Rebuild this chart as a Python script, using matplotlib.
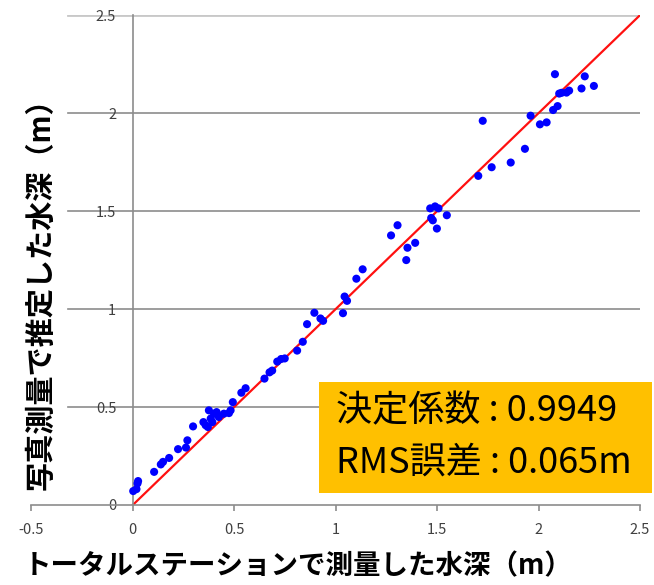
import matplotlib
matplotlib.use("Agg")
import matplotlib.pyplot as plt
from matplotlib.patches import Rectangle
from matplotlib.ticker import FuncFormatter

plt.rcParams['font.family'] = ['Noto Sans CJK JP', 'DejaVu Sans']

# measured (total station) vs estimated (photogrammetry) water depth, m
measured = [0.002, 0.018, 0.023, 0.026, 0.105, 0.138, 0.149, 0.179, 0.223, 0.262,
            0.269, 0.297, 0.348, 0.359, 0.370, 0.375, 0.384, 0.400, 0.413, 0.424,
            0.392, 0.449, 0.474, 0.482, 0.493, 0.535, 0.556, 0.649, 0.674, 0.687,
            0.712, 0.731, 0.749, 0.810, 0.838, 0.859, 0.895, 0.925, 0.938, 1.036,
            1.044, 1.056, 1.102, 1.133, 1.273, 1.305, 1.348, 1.354, 1.392, 1.466,
            1.490, 1.507, 1.471, 1.479, 1.499, 1.548, 1.725, 1.703, 1.769, 1.863,
            1.933, 1.961, 2.007, 2.040, 2.072, 2.094, 2.081, 2.102, 2.114, 2.138,
            2.151, 2.212, 2.228, 2.273]
estimated = [0.071, 0.081, 0.110, 0.122, 0.169, 0.207, 0.220, 0.240, 0.285, 0.293,
             0.330, 0.401, 0.423, 0.407, 0.398, 0.483, 0.441, 0.466, 0.474, 0.449,
             0.423, 0.466, 0.469, 0.483, 0.525, 0.573, 0.596, 0.645, 0.677, 0.686,
             0.732, 0.745, 0.748, 0.788, 0.833, 0.923, 0.981, 0.952, 0.940, 0.979,
             1.064, 1.042, 1.155, 1.203, 1.376, 1.428, 1.250, 1.313, 1.338, 1.514,
             1.524, 1.514, 1.465, 1.453, 1.411, 1.479, 1.961, 1.680, 1.724, 1.748,
             1.818, 1.987, 1.943, 1.953, 2.016, 2.036, 2.199, 2.100, 2.104, 2.105,
             2.115, 2.126, 2.188, 2.139]

x_ticks = [-0.5, 0, 0.5, 1, 1.5, 2, 2.5]
y_ticks = [0, 0.5, 1, 1.5, 2, 2.5]
one_to_one = [0, 2.5]

r2_text = "決定係数 : 0.9949"
rms_text = "RMS誤差 : 0.065m"

fig = plt.figure(figsize=(6.54, 5.85), dpi=100)
ax = fig.add_axes([0.048, 0.1368, 0.9305, 0.8372])

ax.set_xlim(-0.5, 2.5)
ax.set_ylim(0, 2.5)

# horizontal gridlines (the top one is a bit lighter)
for y in y_ticks[1:]:
    if y == 2.5:
        ax.axhline(y, xmin=0.06, xmax=1, color='#c8c8c8', lw=2.0, zorder=1)
    else:
        ax.axhline(y, xmin=0.06, xmax=1, color='#8c8c8c', lw=1.2, zorder=1)

for s in ['top', 'right']:
    ax.spines[s].set_visible(False)
ax.spines['left'].set_position(('data', 0))
ax.spines['left'].set_color('#8c8c8c')
ax.spines['left'].set_linewidth(1.2)
ax.spines['bottom'].set_color('#8c8c8c')
ax.spines['bottom'].set_linewidth(1.2)

fmt = FuncFormatter(lambda v, p: '%g' % v)
ax.set_xticks(x_ticks)
ax.set_yticks(y_ticks)
ax.xaxis.set_major_formatter(fmt)
ax.yaxis.set_major_formatter(fmt)
ax.tick_params(axis='x', direction='out', length=4, width=1.2, color='#8c8c8c',
               pad=9, labelsize=10.5, labelcolor='#404040')
ax.tick_params(axis='y', length=0, pad=12, labelsize=10.5, labelcolor='#404040')

ax.plot(one_to_one, one_to_one, color='#ff1010', lw=1.6, zorder=2)
ax.scatter(measured, estimated, s=34, color='#0000ff', edgecolors='none', zorder=3)

fig.text(298 / 654, 1 - 566 / 585, "トータルステーションで測量した水深（m）",
         ha='center', va='center', fontsize=19.8, fontweight='bold')
fig.text(40 / 654, 1 - 287 / 585, "写真測量で推定した水深（m）", rotation=90,
         ha='center', va='center', fontsize=21, fontweight='bold')

fig.patches.append(Rectangle((319 / 654, 1 - 493 / 585), 333 / 654, 111 / 585,
                             transform=fig.transFigure, facecolor='#ffc000',
                             edgecolor='none', zorder=5))
fig.text(336 / 654, 1 - 411 / 585, r2_text, ha='left', va='center',
         fontsize=26, zorder=6)
fig.text(336 / 654, 1 - 463 / 585, rms_text, ha='left', va='center',
         fontsize=26, zorder=6)

fig.savefig('out.png', dpi=100, facecolor='white')
